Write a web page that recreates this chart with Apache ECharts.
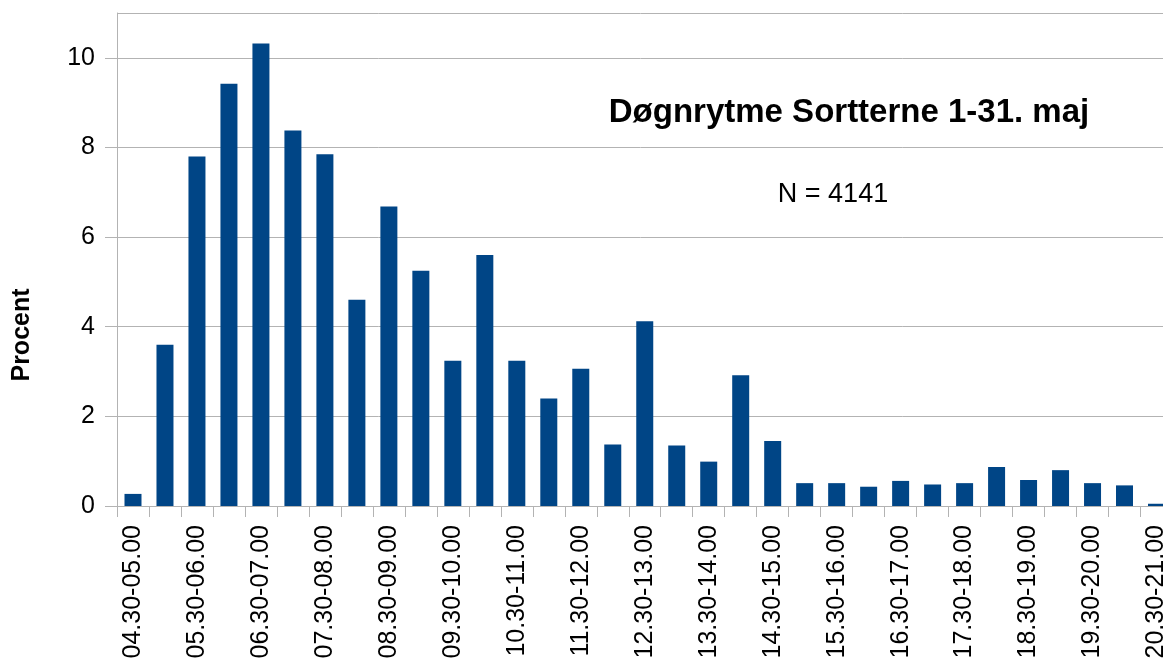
<!DOCTYPE html>
<html>
<head>
<meta charset="utf-8">
<script src="https://cdn.jsdelivr.net/npm/echarts@6/dist/echarts.min.js"></script>
<style>html,body{margin:0;padding:0;background:#fff}#c{width:1163px;height:659px}</style>
</head>
<body>
<div id="c"></div>
<script>
const categories = [
  '04.30-05.00','05.00-05.30','05.30-06.00','06.00-06.30','06.30-07.00','07.00-07.30',
  '07.30-08.00','08.00-08.30','08.30-09.00','09.00-09.30','09.30-10.00','10.00-10.30',
  '10.30-11.00','11.00-11.30','11.30-12.00','12.00-12.30','12.30-13.00','13.00-13.30',
  '13.30-14.00','14.00-14.30','14.30-15.00','15.00-15.30','15.30-16.00','16.00-16.30',
  '16.30-17.00','17.00-17.30','17.30-18.00','18.00-18.30','18.30-19.00','19.00-19.30',
  '19.30-20.00','20.00-20.30','20.30-21.00'
];
const procent = [
  0.27, 3.6, 7.8, 9.42, 10.32, 8.38,
  7.85, 4.6, 6.68, 5.25, 3.24, 5.6,
  3.24, 2.4, 3.06, 1.37, 4.12, 1.35,
  0.99, 2.92, 1.45, 0.51, 0.51, 0.43,
  0.56, 0.48, 0.51, 0.87, 0.58, 0.8,
  0.51, 0.46, 0.05
];
const yTicks = [0, 2, 4, 6, 8, 10];
const yMax = 11;
const titleText = 'Døgnrytme Sortterne 1-31. maj';
const subText = 'N = 4141';
const yName = 'Procent';

const FONT = '"Liberation Sans", Arial, sans-serif';
const chart = echarts.init(document.getElementById('c'), null, {renderer: 'canvas'});
chart.setOption({
  animation: false,
  backgroundColor: '#ffffff',
  grid: {left: 117, right: -9.5, top: 13, bottom: 153, containLabel: false, outerBoundsMode: 'none'},
  xAxis: {
    type: 'category',
    data: categories,
    axisLine: {lineStyle: {color: '#b3b3b3', width: 1}},
    axisTick: {show: true, interval: 0, length: 11, lineStyle: {color: '#b3b3b3'}},
    axisLabel: {interval: 1, rotate: 90, margin: 19, color: '#000', fontSize: 25, fontFamily: FONT, hideOverlap: false}
  },
  yAxis: {
    type: 'value',
    min: 0, max: yMax, interval: 2,
    axisLine: {show: true, lineStyle: {color: '#b3b3b3'}},
    axisTick: {show: true, length: 12, lineStyle: {color: '#b3b3b3'}, customValues: yTicks},
    axisLabel: {color: '#000', fontSize: 25, fontFamily: FONT, margin: 22, customValues: yTicks},
    splitLine: {show: true, lineStyle: {color: '#b3b3b3', width: 1}}
  },
  series: [{
    type: 'bar',
    data: procent,
    barWidth: 17,
    itemStyle: {color: '#004586'},
    markLine: {
      silent: true,
      symbol: 'none',
      label: {show: false},
      lineStyle: {color: '#b3b3b3', type: 'solid', width: 1},
      data: [{yAxis: yMax}]
    }
  }],
  graphic: [
    {type: 'text', x: 849, y: 113,
     style: {text: titleText, align: 'center', verticalAlign: 'middle', fill: '#000', font: 'bold 33px ' + FONT}},
    {type: 'text', x: 833, y: 195,
     style: {text: subText, align: 'center', verticalAlign: 'middle', fill: '#000', font: '27px ' + FONT}},
    {type: 'text', x: 22, y: 335, rotation: Math.PI / 2,
     style: {text: yName, align: 'center', verticalAlign: 'middle', fill: '#000', font: 'bold 25px ' + FONT}}
  ]
});
</script>
</body>
</html>
